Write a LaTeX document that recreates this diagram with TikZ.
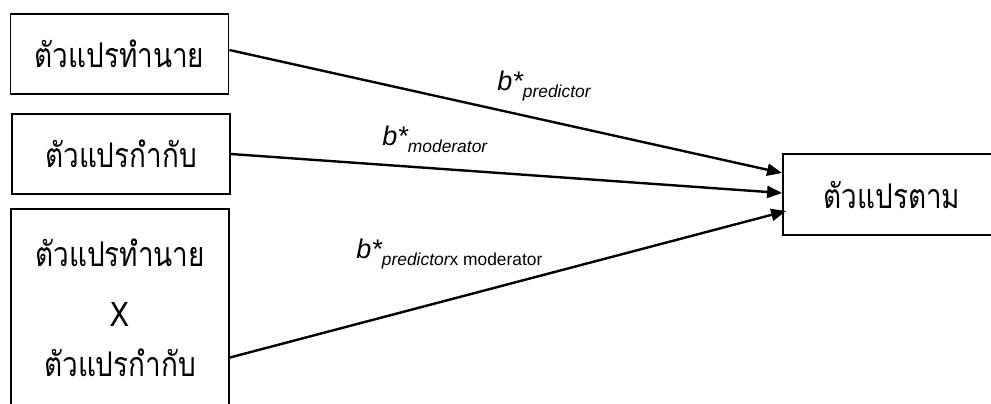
\documentclass[tikz,border=0pt]{standalone}
\usepackage{fontspec}
\setmainfont{Liberation Sans}
\newfontfamily\thaifont[Script=Thai, FakeStretch=0.82]{Loma}
\usetikzlibrary{arrows.meta}

\newcommand{\coefsub}[1]{\raisebox{-3.5pt}{\fontsize{8.7}{9}\selectfont #1}}

\begin{document}
\begin{tikzpicture}[x=0.5pt, y=-0.5pt, >={Triangle[length=7.5pt, width=6pt]},
      box/.style={draw, line width=0.9pt, minimum width=109pt, minimum height=40pt, inner sep=0pt,
        align=center, font=\thaifont\fontsize{17}{25}\selectfont},
      conn/.style={->, line width=1.2pt},
      coef/.style={anchor=base west, inner sep=0pt, font=\fontsize{13.5}{14}\selectfont\itshape}]

    \clip (0, 0) rectangle (991, 403);

    \node[box] (pred)  at (119.5, 54)  {ตัวแปรทำนาย};
    \node[box] (mod)   at (121, 154)   {ตัวแปรกำกับ};
    \node[box, minimum height=98.5pt] (inter) at (120, 307.5)
        {ตัวแปรทำนาย\\[5pt] X\\ ตัวแปรกำกับ};
    \node[box, minimum height=40.5pt] (out) at (892, 194.5) {ตัวแปรตาม};

    \draw[conn] ([yshift=2pt]pred.east) -- ([yshift=10.75pt]out.west);
    \draw[conn] (mod.east) -- ([yshift=0.75pt]out.west);
    \draw[conn] ([yshift=-25pt]inter.east) -- ([xshift=2pt, yshift=-8.25pt]out.west);

    % standardised coefficients
    \node[coef] (bpred)  at (497, 90)  {b*\coefsub{predictor}};
    \node[coef] (bmod)   at (382, 145) {b*\coefsub{moderator}};
    \node[coef] (binter) at (356, 258) {b*\coefsub{predictor\upshape x moderator}};

\end{tikzpicture}
\end{document}
